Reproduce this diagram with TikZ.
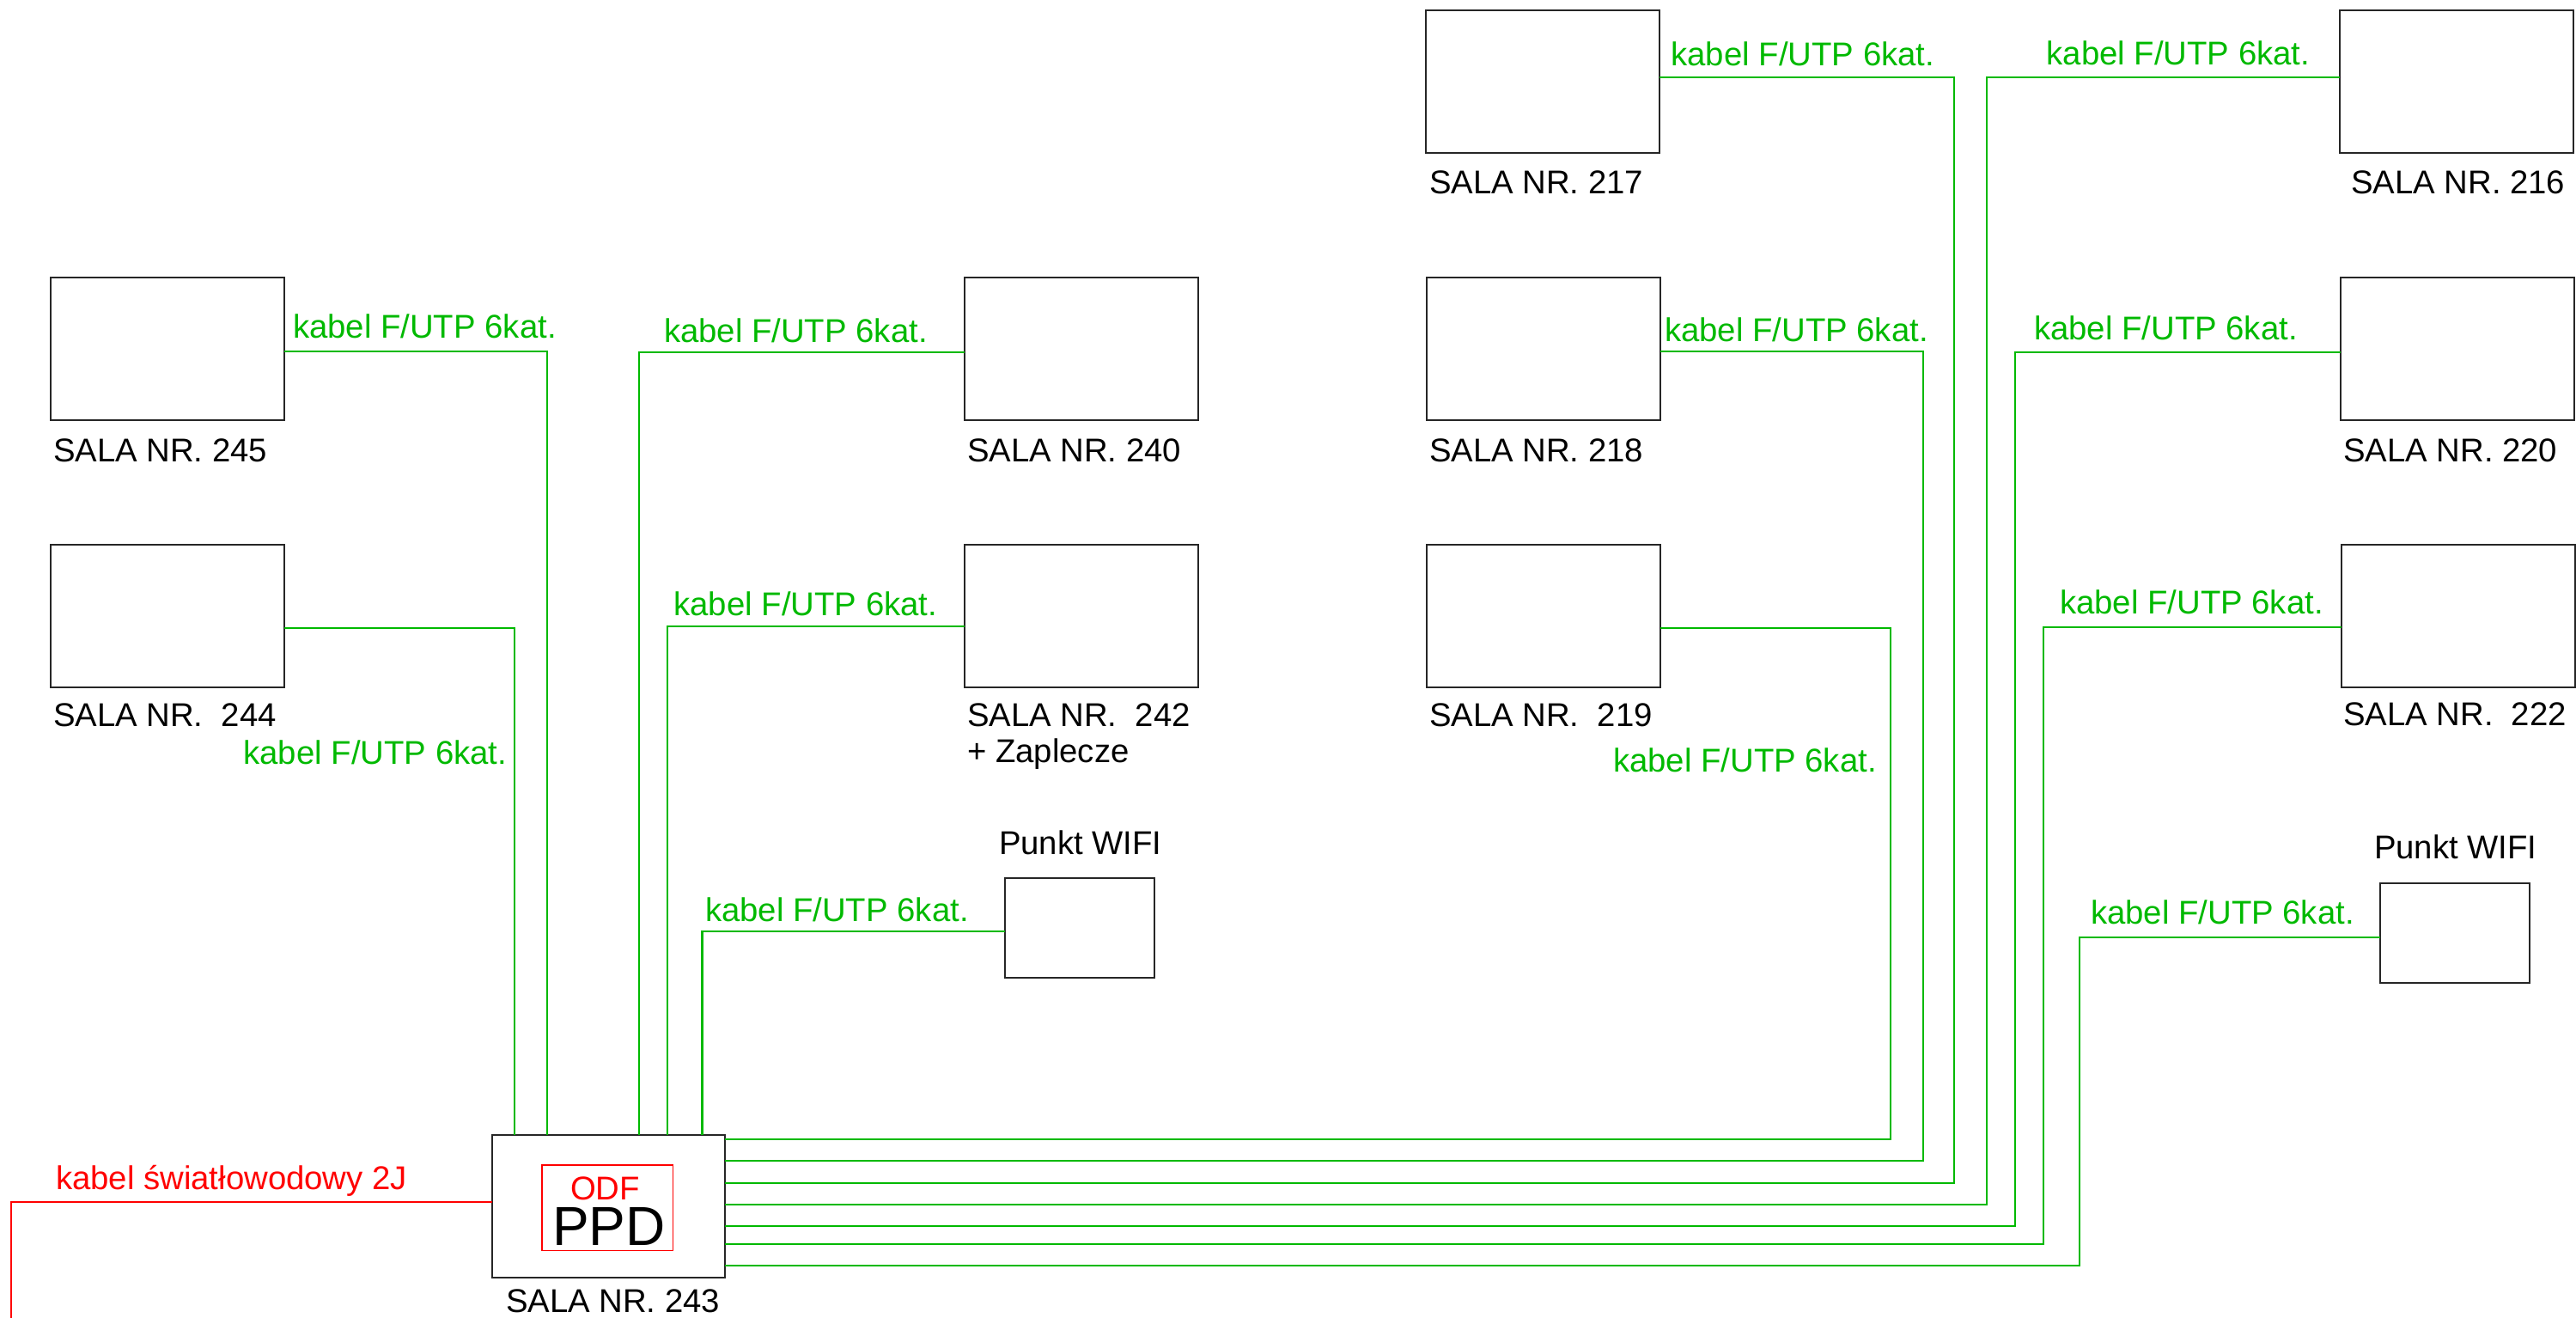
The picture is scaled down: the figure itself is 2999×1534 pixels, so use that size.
\documentclass[tikz,border=0pt]{standalone}
\usepackage{fontspec}
\setmainfont{Liberation Sans}
\definecolor{cgreen}{RGB}{0,185,0}
\definecolor{cred}{RGB}{255,0,0}
\begin{document}
\begin{tikzpicture}[x=0.01cm,y=-0.01cm,
  font=\fontsize{10.9pt}{13pt}\selectfont,
  room/.style={draw=black!85,line width=0.4pt,inner sep=0pt,outer sep=0pt,anchor=north west,
    minimum width=2.72cm,minimum height=1.66cm},
  wifibox/.style={room,minimum width=1.74cm,minimum height=1.16cm},
  odfbox/.style={draw=cred,line width=0.3pt,inner sep=0pt,outer sep=0pt,anchor=north west,
    minimum width=1.52cm,minimum height=0.99cm},
  cable/.style={draw=cgreen,line width=0.6pt},
  fiber/.style={draw=cred,line width=0.6pt},
  txt/.style={anchor=base west,inner sep=0pt,outer sep=0pt,text=black},
  gtxt/.style={txt,text=cgreen},
  rtxt/.style={txt,text=cred}]
\useasboundingbox (0,0) rectangle (2999,1534);

% rooms
\node[room] (r217) at (1660,12) {};
\node[room] (r216) at (2724,12) {};
\node[room] (r245) at (59,323) {};
\node[room] (r240) at (1123,323) {};
\node[room] (r218) at (1661,323) {};
\node[room] (r220) at (2725,323) {};
\node[room] (r244) at (59,634) {};
\node[room] (r242) at (1123,634) {};
\node[room] (r219) at (1661,634) {};
\node[room] (r222) at (2726,634) {};
\node[wifibox] (w1) at (1170,1022) {};
\node[wifibox] (w2) at (2771,1028) {};
\node[room,minimum width=2.71cm] (ppd) at (573,1321) {};
\node[odfbox] (odf) at (631,1356) {};

% room labels
\node[txt] (l217) at (1664,225.7) {SALA NR. 217};
\node[txt] (l216) at (2737,225.7) {SALA NR. 216};
\node[txt] (l245) at (62,537.3) {SALA NR. 245};
\node[txt] (l240) at (1126,537.3) {SALA NR. 240};
\node[txt] (l218) at (1664,537.3) {SALA NR. 218};
\node[txt] (l220) at (2728,537.3) {SALA NR. 220};
\node[txt] (l244) at (62,845.3) {SALA NR.\ \ 244};
\node[txt] (l242) at (1126,845.3) {SALA NR.\ \ 242};
\node[txt] (l242b) at (1126,888) {+ Zaplecze};
\node[txt] (l219) at (1664,845.7) {SALA NR.\ \ 219};
\node[txt] (l222) at (2728,844.9) {SALA NR.\ \ 222};
\node[txt] (lw1) at (1163,994.3) {Punkt WIFI};
\node[txt] (lw2) at (2764,999.9) {Punkt WIFI};
\node[txt] (l243) at (589,1527.7) {SALA NR. 243};
\node[rtxt] (todf) at (664,1396.7) {ODF};
\node[txt,font=\fontsize{18.2pt}{20pt}\selectfont] (tppd) at (643,1449) {PPD};

% cable labels
\node[gtxt] at (341,393.8) {kabel F/UTP 6kat.};
\node[gtxt] at (283.5,889.4) {kabel F/UTP 6kat.};
\node[gtxt] at (773,398.7) {kabel F/UTP 6kat.};
\node[gtxt] at (784.5,717) {kabel F/UTP 6kat.};
\node[gtxt] at (821,1072.7) {kabel F/UTP 6kat.};
\node[gtxt] at (1945.5,76.7) {kabel F/UTP 6kat.};
\node[gtxt] at (1938,397.3) {kabel F/UTP 6kat.};
\node[gtxt] at (1878,898.3) {kabel F/UTP 6kat.};
\node[gtxt] at (2382.5,75.3) {kabel F/UTP 6kat.};
\node[gtxt] at (2368,396) {kabel F/UTP 6kat.};
\node[gtxt] at (2398,714.8) {kabel F/UTP 6kat.};
\node[gtxt] at (2434,1075.3) {kabel F/UTP 6kat.};
\node[rtxt] at (65,1384) {kabel światłowodowy 2J};

% left cables into PPD top
\draw[cable] (r244.east |- 0,731) -| (ppd.north -| 599,0);
\draw[cable] (r245.east |- 0,409) -| (ppd.north -| 637,0);
\draw[cable] (r240.west |- 0,410) -| (ppd.north -| 744,0);
\draw[cable] (r242.west |- 0,729.4) -| (ppd.north -| 777,0);
\draw[cable] (w1.west |- 0,1084) -| (ppd.north -| 817.5,0);

% right cables from PPD east
\draw[cable] (ppd.east |- 0,1326) -| (2200.7,731) -- (r219.east |- 0,731);
\draw[cable] (ppd.east |- 0,1351) -| (2239,409) -- (r218.east |- 0,409);
\draw[cable] (ppd.east |- 0,1376.7) -| (2274.7,89.7) -- (r217.east |- 0,89.7);
\draw[cable] (ppd.east |- 0,1401.7) -| (2312.7,89.7) -- (r216.west |- 0,89.7);
\draw[cable] (ppd.east |- 0,1427) -| (2346,409.7) -- (r220.west |- 0,409.7);
\draw[cable] (ppd.east |- 0,1448.3) -| (2379,729.7) -- (r222.west |- 0,729.7);
\draw[cable] (ppd.east |- 0,1472.7) -| (2421,1091) -- (w2.west |- 0,1091);

% fibre
\coordinate (fend) at (13.4,1534);
\draw[fiber] (ppd.west |- 0,1399) -| (fend);
\end{tikzpicture}
\end{document}
